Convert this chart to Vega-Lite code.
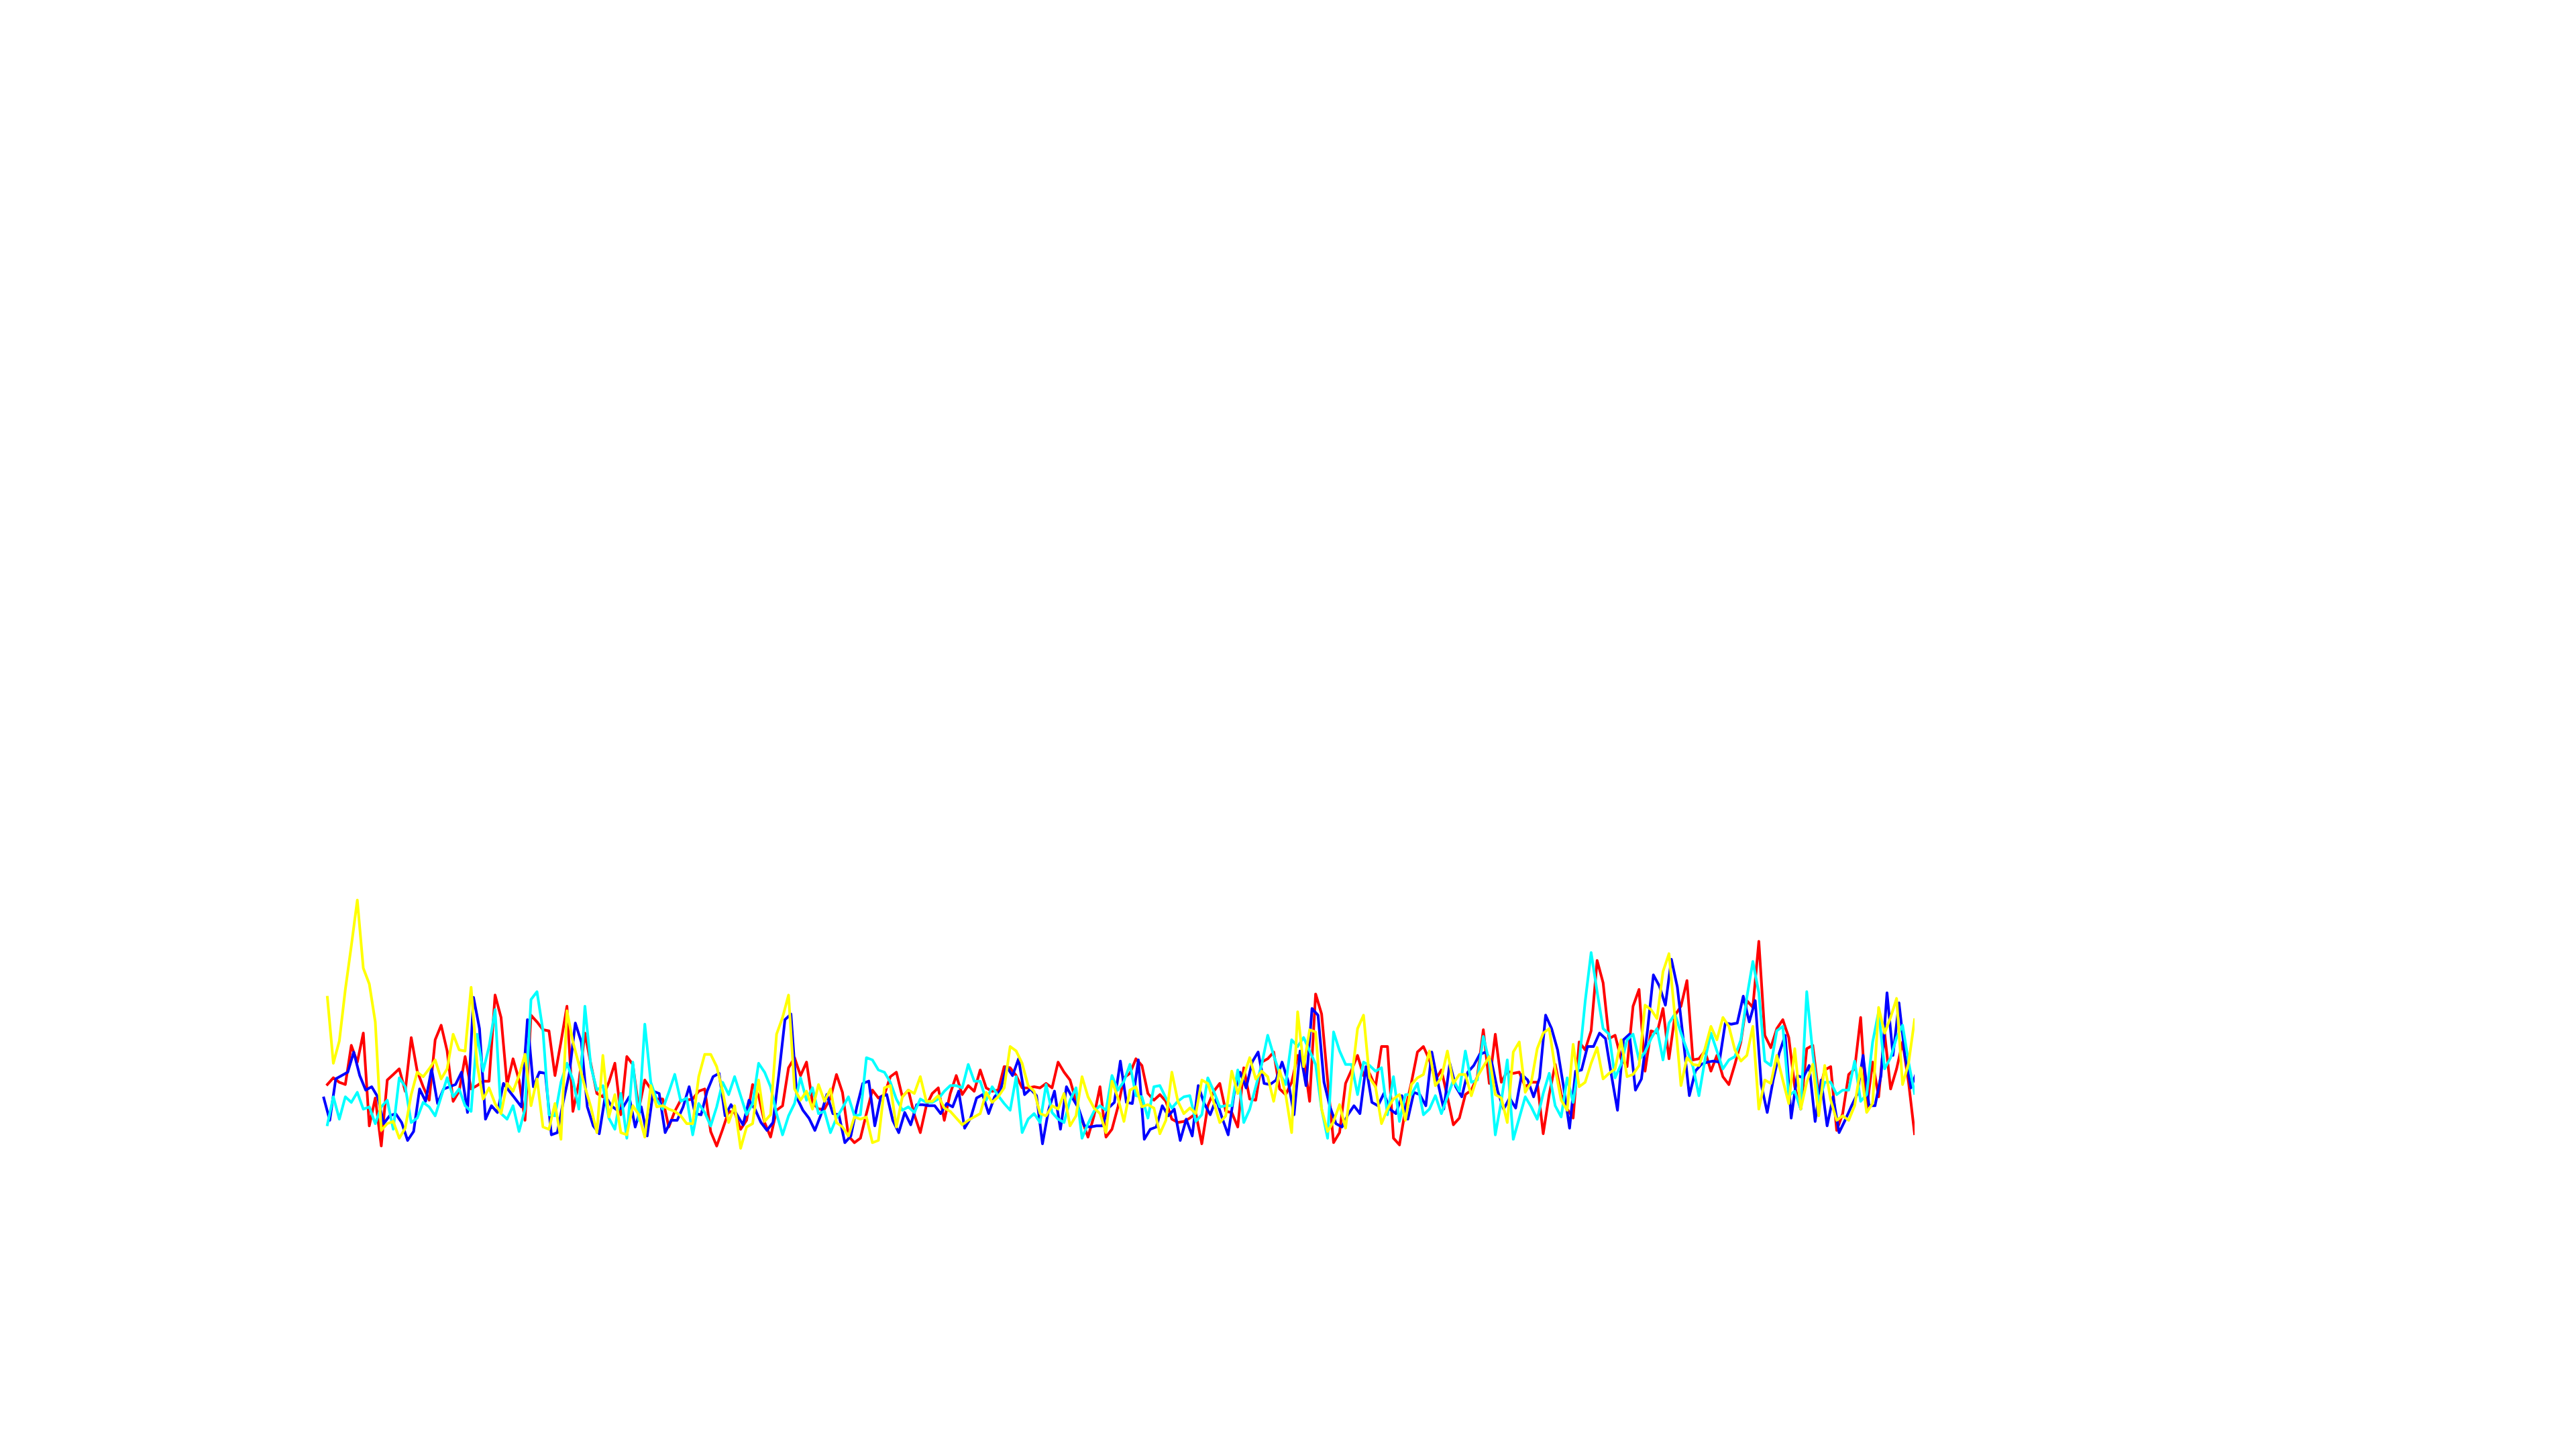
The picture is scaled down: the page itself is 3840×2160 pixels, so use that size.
{
"$schema": "https://vega.github.io/schema/vega-lite/v6.json",
"autosize": {"type": "none"},
"padding": {"left": 488, "top": 1320, "right": 0, "bottom": 0},
"width": 2366,
"height": 420,
"background": "white",
"config": {"view": {"stroke": null}},
"data": {"values": [
{"s":"r","x":0,"v":37},{"s":"r","x":1,"v":40},{"s":"r","x":2,"v":38},{"s":"r","x":3,"v":37},{"s":"r","x":4,"v":54.5},{"s":"r","x":5,"v":47},{"s":"r","x":6,"v":60},{"s":"r","x":7,"v":18.5},{"s":"r","x":8,"v":31},{"s":"r","x":9,"v":9.5},
{"s":"r","x":10,"v":39},{"s":"r","x":11,"v":41.5},{"s":"r","x":12,"v":44},{"s":"r","x":13,"v":34},{"s":"r","x":14,"v":58},{"s":"r","x":15,"v":43},{"s":"r","x":16,"v":36},{"s":"r","x":17,"v":30},{"s":"r","x":18,"v":57},{"s":"r","x":19,"v":63.5},
{"s":"r","x":20,"v":52},{"s":"r","x":21,"v":29.5},{"s":"r","x":22,"v":34},{"s":"r","x":23,"v":49.5},{"s":"r","x":24,"v":35},{"s":"r","x":25,"v":36.5},{"s":"r","x":26,"v":38.5},{"s":"r","x":27,"v":38.5},{"s":"r","x":28,"v":77},{"s":"r","x":29,"v":67},
{"s":"r","x":30,"v":37},{"s":"r","x":31,"v":48.5},{"s":"r","x":32,"v":39},{"s":"r","x":33,"v":21},{"s":"r","x":34,"v":68},{"s":"r","x":35,"v":65},{"s":"r","x":36,"v":61.5},{"s":"r","x":37,"v":61},{"s":"r","x":38,"v":41},{"s":"r","x":39,"v":56},
{"s":"r","x":40,"v":72},{"s":"r","x":41,"v":25},{"s":"r","x":42,"v":38},{"s":"r","x":43,"v":60},{"s":"r","x":44,"v":46},{"s":"r","x":45,"v":33},{"s":"r","x":46,"v":31.5},{"s":"r","x":47,"v":38},{"s":"r","x":48,"v":46.5},{"s":"r","x":49,"v":23.5},
{"s":"r","x":50,"v":49.5},{"s":"r","x":51,"v":46},{"s":"r","x":52,"v":26},{"s":"r","x":53,"v":39},{"s":"r","x":54,"v":35},{"s":"r","x":55,"v":30.5},{"s":"r","x":56,"v":30.5},{"s":"r","x":57,"v":18},{"s":"r","x":58,"v":25},{"s":"r","x":59,"v":30},
{"s":"r","x":60,"v":30},{"s":"r","x":61,"v":30.5},{"s":"r","x":62,"v":34},{"s":"r","x":63,"v":35},{"s":"r","x":64,"v":16},{"s":"r","x":65,"v":9.5},{"s":"r","x":66,"v":17},{"s":"r","x":67,"v":25},{"s":"r","x":68,"v":24.5},{"s":"r","x":69,"v":17},
{"s":"r","x":70,"v":21},{"s":"r","x":71,"v":37},{"s":"r","x":72,"v":32},{"s":"r","x":73,"v":20},{"s":"r","x":74,"v":13.5},{"s":"r","x":75,"v":25.5},{"s":"r","x":76,"v":27.5},{"s":"r","x":77,"v":44.5},{"s":"r","x":78,"v":49},{"s":"r","x":79,"v":41},
{"s":"r","x":80,"v":47},{"s":"r","x":81,"v":29},{"s":"r","x":82,"v":26},{"s":"r","x":83,"v":26},{"s":"r","x":84,"v":31},{"s":"r","x":85,"v":41.5},{"s":"r","x":86,"v":33.5},{"s":"r","x":87,"v":14},{"s":"r","x":88,"v":11},{"s":"r","x":89,"v":13},
{"s":"r","x":90,"v":24},{"s":"r","x":91,"v":34.5},{"s":"r","x":92,"v":31},{"s":"r","x":93,"v":32.5},{"s":"r","x":94,"v":40.5},{"s":"r","x":95,"v":42.5},{"s":"r","x":96,"v":31.5},{"s":"r","x":97,"v":34.5},{"s":"r","x":98,"v":23.5},{"s":"r","x":99,"v":15.5},
{"s":"r","x":100,"v":27.5},{"s":"r","x":101,"v":33},{"s":"r","x":102,"v":35.5},{"s":"r","x":103,"v":21},{"s":"r","x":104,"v":33},{"s":"r","x":105,"v":41},{"s":"r","x":106,"v":32.5},{"s":"r","x":107,"v":36.5},{"s":"r","x":108,"v":34},{"s":"r","x":109,"v":43.5},
{"s":"r","x":110,"v":35.5},{"s":"r","x":111,"v":34},{"s":"r","x":112,"v":34.5},{"s":"r","x":113,"v":45},{"s":"r","x":114,"v":44.5},{"s":"r","x":115,"v":41},{"s":"r","x":116,"v":35.5},{"s":"r","x":117,"v":35.5},{"s":"r","x":118,"v":36},{"s":"r","x":119,"v":35.5},
{"s":"r","x":120,"v":37.5},{"s":"r","x":121,"v":35.5},{"s":"r","x":122,"v":47},{"s":"r","x":123,"v":42.5},{"s":"r","x":124,"v":39},{"s":"r","x":125,"v":29.5},{"s":"r","x":126,"v":21},{"s":"r","x":127,"v":13.5},{"s":"r","x":128,"v":23},{"s":"r","x":129,"v":36},
{"s":"r","x":130,"v":13.5},{"s":"r","x":131,"v":17},{"s":"r","x":132,"v":27},{"s":"r","x":133,"v":40},{"s":"r","x":134,"v":42},{"s":"r","x":135,"v":48.5},{"s":"r","x":136,"v":45.5},{"s":"r","x":137,"v":33},{"s":"r","x":138,"v":30},{"s":"r","x":139,"v":32.5},
{"s":"r","x":140,"v":29.5},{"s":"r","x":141,"v":21.5},{"s":"r","x":142,"v":20},{"s":"r","x":143,"v":20.5},{"s":"r","x":144,"v":22},{"s":"r","x":145,"v":24},{"s":"r","x":146,"v":10.5},{"s":"r","x":147,"v":27.5},{"s":"r","x":148,"v":34},{"s":"r","x":149,"v":37.5},
{"s":"r","x":150,"v":25},{"s":"r","x":151,"v":24.5},{"s":"r","x":152,"v":18},{"s":"r","x":153,"v":44.5},{"s":"r","x":154,"v":30.5},{"s":"r","x":155,"v":30},{"s":"r","x":156,"v":47},{"s":"r","x":157,"v":48.5},{"s":"r","x":158,"v":51.5},{"s":"r","x":159,"v":35},
{"s":"r","x":160,"v":32.5},{"s":"r","x":161,"v":38},{"s":"r","x":162,"v":50},{"s":"r","x":163,"v":49},{"s":"r","x":164,"v":29.5},{"s":"r","x":165,"v":77.5},{"s":"r","x":166,"v":68.5},{"s":"r","x":167,"v":39},{"s":"r","x":168,"v":11},{"s":"r","x":169,"v":15.5},
{"s":"r","x":170,"v":37.5},{"s":"r","x":171,"v":43.5},{"s":"r","x":172,"v":50},{"s":"r","x":173,"v":41},{"s":"r","x":174,"v":42},{"s":"r","x":175,"v":36},{"s":"r","x":176,"v":54},{"s":"r","x":177,"v":54},{"s":"r","x":178,"v":13},{"s":"r","x":179,"v":10},
{"s":"r","x":180,"v":26},{"s":"r","x":181,"v":38},{"s":"r","x":182,"v":51.5},{"s":"r","x":183,"v":54},{"s":"r","x":184,"v":48},{"s":"r","x":185,"v":39},{"s":"r","x":186,"v":43.5},{"s":"r","x":187,"v":31.5},{"s":"r","x":188,"v":19},{"s":"r","x":189,"v":22},
{"s":"r","x":190,"v":32.5},{"s":"r","x":191,"v":34.5},{"s":"r","x":192,"v":40.5},{"s":"r","x":193,"v":61.5},{"s":"r","x":194,"v":37.5},{"s":"r","x":195,"v":59.5},{"s":"r","x":196,"v":38},{"s":"r","x":197,"v":43},{"s":"r","x":198,"v":42},{"s":"r","x":199,"v":42.5},
{"s":"r","x":200,"v":36},{"s":"r","x":201,"v":38},{"s":"r","x":202,"v":38},{"s":"r","x":203,"v":15},{"s":"r","x":204,"v":32.5},{"s":"r","x":205,"v":46},{"s":"r","x":206,"v":32.5},{"s":"r","x":207,"v":26},{"s":"r","x":208,"v":22},{"s":"r","x":209,"v":56},
{"s":"r","x":210,"v":52.5},{"s":"r","x":211,"v":61},{"s":"r","x":212,"v":92.5},{"s":"r","x":213,"v":82.5},{"s":"r","x":214,"v":57.5},{"s":"r","x":215,"v":59},{"s":"r","x":216,"v":48.5},{"s":"r","x":217,"v":45},{"s":"r","x":218,"v":72},{"s":"r","x":219,"v":79.5},
{"s":"r","x":220,"v":43},{"s":"r","x":221,"v":61},{"s":"r","x":222,"v":60},{"s":"r","x":223,"v":71},{"s":"r","x":224,"v":48.5},{"s":"r","x":225,"v":68},{"s":"r","x":226,"v":72},{"s":"r","x":227,"v":83.5},{"s":"r","x":228,"v":48},{"s":"r","x":229,"v":48.5},
{"s":"r","x":230,"v":52},{"s":"r","x":231,"v":43},{"s":"r","x":232,"v":50},{"s":"r","x":233,"v":40.5},{"s":"r","x":234,"v":37},{"s":"r","x":235,"v":46},{"s":"r","x":236,"v":56},{"s":"r","x":237,"v":74.5},{"s":"r","x":238,"v":71.5},{"s":"r","x":239,"v":101},
{"s":"r","x":240,"v":59},{"s":"r","x":241,"v":53.5},{"s":"r","x":242,"v":62},{"s":"r","x":243,"v":66},{"s":"r","x":244,"v":58},{"s":"r","x":245,"v":36},{"s":"r","x":246,"v":26},{"s":"r","x":247,"v":53},{"s":"r","x":248,"v":54.5},{"s":"r","x":249,"v":32.5},
{"s":"r","x":250,"v":43.5},{"s":"r","x":251,"v":45},{"s":"r","x":252,"v":16.5},{"s":"r","x":253,"v":24},{"s":"r","x":254,"v":41.5},{"s":"r","x":255,"v":44},{"s":"r","x":256,"v":67},{"s":"r","x":257,"v":26},{"s":"r","x":258,"v":47},{"s":"r","x":259,"v":31.5},
{"s":"r","x":260,"v":60},{"s":"r","x":261,"v":35},{"s":"r","x":262,"v":44},{"s":"r","x":263,"v":56},{"s":"r","x":264,"v":38},{"s":"r","x":265,"v":15},

{"s":"b","x":-0.6,"v":31},{"s":"b","x":0.4,"v":21},{"s":"b","x":1.4,"v":39.5},{"s":"b","x":2.4,"v":41},{"s":"b","x":3.4,"v":42.5},{"s":"b","x":4.4,"v":51.5},{"s":"b","x":5.4,"v":41},{"s":"b","x":6.4,"v":34.5},{"s":"b","x":7.4,"v":36},{"s":"b","x":8.4,"v":31.5},{"s":"b","x":9.4,"v":19.5},
{"s":"b","x":10.4,"v":23},{"s":"b","x":11.4,"v":24},{"s":"b","x":12.4,"v":20},{"s":"b","x":13.4,"v":12},{"s":"b","x":14.4,"v":16},{"s":"b","x":15.4,"v":35},{"s":"b","x":16.4,"v":29.5},{"s":"b","x":17.4,"v":44},{"s":"b","x":18.4,"v":28.5},{"s":"b","x":19.4,"v":35},
{"s":"b","x":20.4,"v":36},{"s":"b","x":21.4,"v":37},{"s":"b","x":22.4,"v":42.5},{"s":"b","x":23.4,"v":24.5},{"s":"b","x":24.4,"v":76},{"s":"b","x":25.4,"v":62},{"s":"b","x":26.4,"v":21.5},{"s":"b","x":27.4,"v":27.5},{"s":"b","x":28.4,"v":24.5},{"s":"b","x":29.4,"v":37.5},
{"s":"b","x":30.4,"v":34},{"s":"b","x":31.4,"v":30.5},{"s":"b","x":32.4,"v":27},{"s":"b","x":33.4,"v":66},{"s":"b","x":34.4,"v":36},{"s":"b","x":35.4,"v":42.5},{"s":"b","x":36.4,"v":42},{"s":"b","x":37.4,"v":14.5},{"s":"b","x":38.4,"v":15.5},{"s":"b","x":39.4,"v":29.5},
{"s":"b","x":40.4,"v":42},{"s":"b","x":41.4,"v":64.5},{"s":"b","x":42.4,"v":56},{"s":"b","x":43.4,"v":27},{"s":"b","x":44.4,"v":18.5},{"s":"b","x":45.4,"v":15},{"s":"b","x":46.4,"v":32},{"s":"b","x":47.4,"v":27.5},{"s":"b","x":48.4,"v":25.5},{"s":"b","x":49.4,"v":27},
{"s":"b","x":50.4,"v":31.5},{"s":"b","x":51.4,"v":18},{"s":"b","x":52.4,"v":27},{"s":"b","x":53.4,"v":14},{"s":"b","x":54.4,"v":34},{"s":"b","x":55.4,"v":33},{"s":"b","x":56.4,"v":15.5},{"s":"b","x":57.4,"v":21},{"s":"b","x":58.4,"v":21},{"s":"b","x":59.4,"v":27},
{"s":"b","x":60.4,"v":36},{"s":"b","x":61.4,"v":24},{"s":"b","x":62.4,"v":23.5},{"s":"b","x":63.4,"v":34},{"s":"b","x":64.4,"v":40.5},{"s":"b","x":65.4,"v":42},{"s":"b","x":66.4,"v":23},{"s":"b","x":67.4,"v":28},{"s":"b","x":68.4,"v":23.5},{"s":"b","x":69.4,"v":19},
{"s":"b","x":70.4,"v":30},{"s":"b","x":71.4,"v":26},{"s":"b","x":72.4,"v":20},{"s":"b","x":73.4,"v":16.5},{"s":"b","x":74.4,"v":20},{"s":"b","x":75.4,"v":42},{"s":"b","x":76.4,"v":66},{"s":"b","x":77.4,"v":68.5},{"s":"b","x":78.4,"v":31},{"s":"b","x":79.4,"v":25.5},
{"s":"b","x":80.4,"v":22},{"s":"b","x":81.4,"v":16.5},{"s":"b","x":82.4,"v":23.5},{"s":"b","x":83.4,"v":32.5},{"s":"b","x":84.4,"v":24},{"s":"b","x":85.4,"v":23.5},{"s":"b","x":86.4,"v":11},{"s":"b","x":87.4,"v":14},{"s":"b","x":88.4,"v":27},{"s":"b","x":89.4,"v":37.5},
{"s":"b","x":90.4,"v":38.5},{"s":"b","x":91.4,"v":18.5},{"s":"b","x":92.4,"v":31.5},{"s":"b","x":93.4,"v":32.5},{"s":"b","x":94.4,"v":21},{"s":"b","x":95.4,"v":15.5},{"s":"b","x":96.4,"v":24.5},{"s":"b","x":97.4,"v":19},{"s":"b","x":98.4,"v":28},{"s":"b","x":99.4,"v":28},
{"s":"b","x":100.4,"v":27.5},{"s":"b","x":101.4,"v":27.5},{"s":"b","x":102.4,"v":24},{"s":"b","x":103.4,"v":28.5},{"s":"b","x":104.4,"v":27},{"s":"b","x":105.4,"v":34},{"s":"b","x":106.4,"v":17.5},{"s":"b","x":107.4,"v":22},{"s":"b","x":108.4,"v":31},{"s":"b","x":109.4,"v":32.5},
{"s":"b","x":110.4,"v":24},{"s":"b","x":111.4,"v":31.5},{"s":"b","x":112.4,"v":34.5},{"s":"b","x":113.4,"v":45},{"s":"b","x":114.4,"v":41},{"s":"b","x":115.4,"v":48.5},{"s":"b","x":116.4,"v":32.5},{"s":"b","x":117.4,"v":35},{"s":"b","x":118.4,"v":32},{"s":"b","x":119.4,"v":10.5},
{"s":"b","x":120.4,"v":25.5},{"s":"b","x":121.4,"v":34},{"s":"b","x":122.4,"v":17},{"s":"b","x":123.4,"v":36},{"s":"b","x":124.4,"v":31},{"s":"b","x":125.4,"v":26.5},{"s":"b","x":126.4,"v":18.5},{"s":"b","x":127.4,"v":18},{"s":"b","x":128.4,"v":18.5},{"s":"b","x":129.4,"v":18.5},
{"s":"b","x":130.4,"v":26.5},{"s":"b","x":131.4,"v":29},{"s":"b","x":132.4,"v":47.5},{"s":"b","x":133.4,"v":29},{"s":"b","x":134.4,"v":28.5},{"s":"b","x":135.4,"v":48},{"s":"b","x":136.4,"v":12.5},{"s":"b","x":137.4,"v":17},{"s":"b","x":138.4,"v":18},{"s":"b","x":139.4,"v":27.5},
{"s":"b","x":140.4,"v":23},{"s":"b","x":141.4,"v":26},{"s":"b","x":142.4,"v":12},{"s":"b","x":143.4,"v":21.5},{"s":"b","x":144.4,"v":14},{"s":"b","x":145.4,"v":36.5},{"s":"b","x":146.4,"v":28.5},{"s":"b","x":147.4,"v":23.5},{"s":"b","x":148.4,"v":30.5},{"s":"b","x":149.4,"v":22},
{"s":"b","x":150.4,"v":14.5},{"s":"b","x":151.4,"v":33},{"s":"b","x":152.4,"v":42.5},{"s":"b","x":153.4,"v":35.5},{"s":"b","x":154.4,"v":47},{"s":"b","x":155.4,"v":51.5},{"s":"b","x":156.4,"v":37.5},{"s":"b","x":157.4,"v":37},{"s":"b","x":158.4,"v":39},{"s":"b","x":159.4,"v":47},
{"s":"b","x":160.4,"v":38.5},{"s":"b","x":161.4,"v":23.5},{"s":"b","x":162.4,"v":52},{"s":"b","x":163.4,"v":36.5},{"s":"b","x":164.4,"v":71},{"s":"b","x":165.4,"v":68},{"s":"b","x":166.4,"v":38},{"s":"b","x":167.4,"v":27},{"s":"b","x":168.4,"v":19.5},{"s":"b","x":169.4,"v":18},
{"s":"b","x":170.4,"v":23.5},{"s":"b","x":171.4,"v":27.5},{"s":"b","x":172.4,"v":24},{"s":"b","x":173.4,"v":45},{"s":"b","x":174.4,"v":29},{"s":"b","x":175.4,"v":27.5},{"s":"b","x":176.4,"v":33},{"s":"b","x":177.4,"v":26},{"s":"b","x":178.4,"v":24},{"s":"b","x":179.4,"v":32},
{"s":"b","x":180.4,"v":21.5},{"s":"b","x":181.4,"v":33.5},{"s":"b","x":182.4,"v":32.5},{"s":"b","x":183.4,"v":27.5},{"s":"b","x":184.4,"v":51.5},{"s":"b","x":185.4,"v":38},{"s":"b","x":186.4,"v":26},{"s":"b","x":187.4,"v":46.5},{"s":"b","x":188.4,"v":36},{"s":"b","x":189.4,"v":31.5},
{"s":"b","x":190.4,"v":42.5},{"s":"b","x":191.4,"v":45.5},{"s":"b","x":192.4,"v":50.5},{"s":"b","x":193.4,"v":51.5},{"s":"b","x":194.4,"v":47},{"s":"b","x":195.4,"v":34},{"s":"b","x":196.4,"v":26},{"s":"b","x":197.4,"v":31},{"s":"b","x":198.4,"v":26.5},{"s":"b","x":199.4,"v":41.5},
{"s":"b","x":200.4,"v":39},{"s":"b","x":201.4,"v":31.5},{"s":"b","x":202.4,"v":40},{"s":"b","x":203.4,"v":68},{"s":"b","x":204.4,"v":62},{"s":"b","x":205.4,"v":52.5},{"s":"b","x":206.4,"v":36},{"s":"b","x":207.4,"v":17.5},{"s":"b","x":208.4,"v":43},{"s":"b","x":209.4,"v":43.5},
{"s":"b","x":210.4,"v":54},{"s":"b","x":211.4,"v":54},{"s":"b","x":212.4,"v":60},{"s":"b","x":213.4,"v":57.5},{"s":"b","x":214.4,"v":41},{"s":"b","x":215.4,"v":25.5},{"s":"b","x":216.4,"v":57},{"s":"b","x":217.4,"v":59.5},{"s":"b","x":218.4,"v":34.5},{"s":"b","x":219.4,"v":39.5},
{"s":"b","x":220.4,"v":61},{"s":"b","x":221.4,"v":86},{"s":"b","x":222.4,"v":81},{"s":"b","x":223.4,"v":72.5},{"s":"b","x":224.4,"v":93},{"s":"b","x":225.4,"v":80.5},{"s":"b","x":226.4,"v":57},{"s":"b","x":227.4,"v":32},{"s":"b","x":228.4,"v":43},{"s":"b","x":229.4,"v":46},
{"s":"b","x":230.4,"v":47},{"s":"b","x":231.4,"v":47.5},{"s":"b","x":232.4,"v":47},{"s":"b","x":233.4,"v":64.5},{"s":"b","x":234.4,"v":64},{"s":"b","x":235.4,"v":64.5},{"s":"b","x":236.4,"v":76.5},{"s":"b","x":237.4,"v":65},{"s":"b","x":238.4,"v":74.5},{"s":"b","x":239.4,"v":37},
{"s":"b","x":240.4,"v":24.5},{"s":"b","x":241.4,"v":39},{"s":"b","x":242.4,"v":51},{"s":"b","x":243.4,"v":59},{"s":"b","x":244.4,"v":22},{"s":"b","x":245.4,"v":41},{"s":"b","x":246.4,"v":40},{"s":"b","x":247.4,"v":45.5},{"s":"b","x":248.4,"v":20.5},{"s":"b","x":249.4,"v":39},
{"s":"b","x":250.4,"v":18.5},{"s":"b","x":251.4,"v":31.5},{"s":"b","x":252.4,"v":15.5},{"s":"b","x":253.4,"v":21},{"s":"b","x":254.4,"v":27},{"s":"b","x":255.4,"v":32.5},{"s":"b","x":256.4,"v":50},{"s":"b","x":257.4,"v":27.5},{"s":"b","x":258.4,"v":27.5},{"s":"b","x":259.4,"v":41},
{"s":"b","x":260.4,"v":78},{"s":"b","x":261.4,"v":50},{"s":"b","x":262.4,"v":73.5},{"s":"b","x":263.4,"v":50},{"s":"b","x":264.4,"v":35.5},{"s":"b","x":265.4,"v":43},

{"s":"c","x":0,"v":19},{"s":"c","x":1,"v":31.5},{"s":"c","x":2,"v":21.5},{"s":"c","x":3,"v":31.5},{"s":"c","x":4,"v":29},{"s":"c","x":5,"v":33.5},{"s":"c","x":6,"v":26},{"s":"c","x":7,"v":27},{"s":"c","x":8,"v":19.5},{"s":"c","x":9,"v":27},
{"s":"c","x":10,"v":30},{"s":"c","x":11,"v":17},{"s":"c","x":12,"v":40},{"s":"c","x":13,"v":36},{"s":"c","x":14,"v":20},{"s":"c","x":15,"v":22},{"s":"c","x":16,"v":29},{"s":"c","x":17,"v":27},{"s":"c","x":18,"v":23},{"s":"c","x":19,"v":31.5},
{"s":"c","x":20,"v":40},{"s":"c","x":21,"v":31.5},{"s":"c","x":22,"v":35},{"s":"c","x":23,"v":27.5},{"s":"c","x":24,"v":25},{"s":"c","x":25,"v":59.5},{"s":"c","x":26,"v":43},{"s":"c","x":27,"v":54},{"s":"c","x":28,"v":70.5},{"s":"c","x":29,"v":24},
{"s":"c","x":30,"v":21.5},{"s":"c","x":31,"v":27.5},{"s":"c","x":32,"v":16},{"s":"c","x":33,"v":26},{"s":"c","x":34,"v":75},{"s":"c","x":35,"v":78.5},{"s":"c","x":36,"v":61},{"s":"c","x":37,"v":23.5},{"s":"c","x":38,"v":23},{"s":"c","x":39,"v":38},
{"s":"c","x":40,"v":46.5},{"s":"c","x":41,"v":39},{"s":"c","x":42,"v":26},{"s":"c","x":43,"v":72},{"s":"c","x":44,"v":45},{"s":"c","x":45,"v":34.5},{"s":"c","x":46,"v":36.5},{"s":"c","x":47,"v":22},{"s":"c","x":48,"v":17},{"s":"c","x":49,"v":33},
{"s":"c","x":50,"v":13},{"s":"c","x":51,"v":47},{"s":"c","x":52,"v":21},{"s":"c","x":53,"v":64},{"s":"c","x":54,"v":38},{"s":"c","x":55,"v":30},{"s":"c","x":56,"v":26},{"s":"c","x":57,"v":33.5},{"s":"c","x":58,"v":41.5},{"s":"c","x":59,"v":29.5},
{"s":"c","x":60,"v":31},{"s":"c","x":61,"v":14.5},{"s":"c","x":62,"v":28.5},{"s":"c","x":63,"v":24.5},{"s":"c","x":64,"v":18.5},{"s":"c","x":65,"v":27},{"s":"c","x":66,"v":38},{"s":"c","x":67,"v":32.5},{"s":"c","x":68,"v":40.5},{"s":"c","x":69,"v":32},
{"s":"c","x":70,"v":23.5},{"s":"c","x":71,"v":28.5},{"s":"c","x":72,"v":46.5},{"s":"c","x":73,"v":42.5},{"s":"c","x":74,"v":36},{"s":"c","x":75,"v":24},{"s":"c","x":76,"v":14.5},{"s":"c","x":77,"v":23},{"s":"c","x":78,"v":28.5},{"s":"c","x":79,"v":40},
{"s":"c","x":80,"v":30},{"s":"c","x":81,"v":35.5},{"s":"c","x":82,"v":24},{"s":"c","x":83,"v":25},{"s":"c","x":84,"v":15.5},{"s":"c","x":85,"v":22},{"s":"c","x":86,"v":26.5},{"s":"c","x":87,"v":31.5},{"s":"c","x":88,"v":23},{"s":"c","x":89,"v":23.5},
{"s":"c","x":90,"v":49},{"s":"c","x":91,"v":48},{"s":"c","x":92,"v":43.5},{"s":"c","x":93,"v":42.5},{"s":"c","x":94,"v":38},{"s":"c","x":95,"v":30.5},{"s":"c","x":96,"v":25.5},{"s":"c","x":97,"v":27},{"s":"c","x":98,"v":24.5},{"s":"c","x":99,"v":30.5},
{"s":"c","x":100,"v":29},{"s":"c","x":101,"v":29},{"s":"c","x":102,"v":30.5},{"s":"c","x":103,"v":34},{"s":"c","x":104,"v":36.5},{"s":"c","x":105,"v":36.5},{"s":"c","x":106,"v":35.5},{"s":"c","x":107,"v":46},{"s":"c","x":108,"v":38.5},{"s":"c","x":109,"v":38.5},
{"s":"c","x":110,"v":30},{"s":"c","x":111,"v":36},{"s":"c","x":112,"v":32},{"s":"c","x":113,"v":28.5},{"s":"c","x":114,"v":25.5},{"s":"c","x":115,"v":40.5},{"s":"c","x":116,"v":15.5},{"s":"c","x":117,"v":21.5},{"s":"c","x":118,"v":24},{"s":"c","x":119,"v":20},
{"s":"c","x":120,"v":37},{"s":"c","x":121,"v":24.5},{"s":"c","x":122,"v":21.5},{"s":"c","x":123,"v":20},{"s":"c","x":124,"v":30},{"s":"c","x":125,"v":35.5},{"s":"c","x":126,"v":13},{"s":"c","x":127,"v":19.5},{"s":"c","x":128,"v":25},{"s":"c","x":129,"v":27.5},
{"s":"c","x":130,"v":25.5},{"s":"c","x":131,"v":41},{"s":"c","x":132,"v":34.5},{"s":"c","x":133,"v":38.5},{"s":"c","x":134,"v":46},{"s":"c","x":135,"v":32},{"s":"c","x":136,"v":31.5},{"s":"c","x":137,"v":22},{"s":"c","x":138,"v":36},{"s":"c","x":139,"v":36.5},
{"s":"c","x":140,"v":31},{"s":"c","x":141,"v":26.5},{"s":"c","x":142,"v":29.5},{"s":"c","x":143,"v":31.5},{"s":"c","x":144,"v":32},{"s":"c","x":145,"v":20.5},{"s":"c","x":146,"v":23.5},{"s":"c","x":147,"v":40},{"s":"c","x":148,"v":34},{"s":"c","x":149,"v":27},
{"s":"c","x":150,"v":27.5},{"s":"c","x":151,"v":27.5},{"s":"c","x":152,"v":43.5},{"s":"c","x":153,"v":20},{"s":"c","x":154,"v":26},{"s":"c","x":155,"v":36},{"s":"c","x":156,"v":46},{"s":"c","x":157,"v":59},{"s":"c","x":158,"v":50},{"s":"c","x":159,"v":42},
{"s":"c","x":160,"v":37},{"s":"c","x":161,"v":57},{"s":"c","x":162,"v":54},{"s":"c","x":163,"v":58},{"s":"c","x":164,"v":52},{"s":"c","x":165,"v":46},{"s":"c","x":166,"v":26},{"s":"c","x":167,"v":13},{"s":"c","x":168,"v":60.5},{"s":"c","x":169,"v":52},
{"s":"c","x":170,"v":46},{"s":"c","x":171,"v":46},{"s":"c","x":172,"v":32.5},{"s":"c","x":173,"v":47},{"s":"c","x":174,"v":45.5},{"s":"c","x":175,"v":43},{"s":"c","x":176,"v":44.5},{"s":"c","x":177,"v":23.5},{"s":"c","x":178,"v":40.5},{"s":"c","x":179,"v":20.5},
{"s":"c","x":180,"v":32.5},{"s":"c","x":181,"v":32.5},{"s":"c","x":182,"v":37.5},{"s":"c","x":183,"v":23.5},{"s":"c","x":184,"v":26},{"s":"c","x":185,"v":32},{"s":"c","x":186,"v":24},{"s":"c","x":187,"v":31.5},{"s":"c","x":188,"v":39},{"s":"c","x":189,"v":34},
{"s":"c","x":190,"v":52},{"s":"c","x":191,"v":38},{"s":"c","x":192,"v":39},{"s":"c","x":193,"v":58.5},{"s":"c","x":194,"v":47},{"s":"c","x":195,"v":14.5},{"s":"c","x":196,"v":29.5},{"s":"c","x":197,"v":48},{"s":"c","x":198,"v":12.5},{"s":"c","x":199,"v":22},
{"s":"c","x":200,"v":31.5},{"s":"c","x":201,"v":27},{"s":"c","x":202,"v":21.5},{"s":"c","x":203,"v":33},{"s":"c","x":204,"v":42},{"s":"c","x":205,"v":27.5},{"s":"c","x":206,"v":22.5},{"s":"c","x":207,"v":40},{"s":"c","x":208,"v":29},{"s":"c","x":209,"v":47},
{"s":"c","x":210,"v":74},{"s":"c","x":211,"v":96},{"s":"c","x":212,"v":78.5},{"s":"c","x":213,"v":62},{"s":"c","x":214,"v":59.5},{"s":"c","x":215,"v":40},{"s":"c","x":216,"v":46},{"s":"c","x":217,"v":57},{"s":"c","x":218,"v":59.5},{"s":"c","x":219,"v":48},
{"s":"c","x":220,"v":51.5},{"s":"c","x":221,"v":57.5},{"s":"c","x":222,"v":62},{"s":"c","x":223,"v":48},{"s":"c","x":224,"v":64.5},{"s":"c","x":225,"v":68.5},{"s":"c","x":226,"v":60},{"s":"c","x":227,"v":52.5},{"s":"c","x":228,"v":45},{"s":"c","x":229,"v":32},
{"s":"c","x":230,"v":48},{"s":"c","x":231,"v":60},{"s":"c","x":232,"v":52},{"s":"c","x":233,"v":44},{"s":"c","x":234,"v":48},{"s":"c","x":235,"v":49.5},{"s":"c","x":236,"v":57},{"s":"c","x":237,"v":76},{"s":"c","x":238,"v":92},{"s":"c","x":239,"v":78},
{"s":"c","x":240,"v":47.5},{"s":"c","x":241,"v":45.5},{"s":"c","x":242,"v":61},{"s":"c","x":243,"v":63},{"s":"c","x":244,"v":32},{"s":"c","x":245,"v":34},{"s":"c","x":246,"v":26},{"s":"c","x":247,"v":78.5},{"s":"c","x":248,"v":51},{"s":"c","x":249,"v":29},
{"s":"c","x":250,"v":38},{"s":"c","x":251,"v":38},{"s":"c","x":252,"v":32.5},{"s":"c","x":253,"v":34.5},{"s":"c","x":254,"v":34.5},{"s":"c","x":255,"v":47.5},{"s":"c","x":256,"v":29.5},{"s":"c","x":257,"v":32.5},{"s":"c","x":258,"v":56},{"s":"c","x":259,"v":69.5},
{"s":"c","x":260,"v":44},{"s":"c","x":261,"v":49},{"s":"c","x":262,"v":58},{"s":"c","x":263,"v":63.5},{"s":"c","x":264,"v":47},{"s":"c","x":265,"v":33},

{"s":"y","x":0,"v":76},{"s":"y","x":1,"v":46.5},{"s":"y","x":2,"v":56.5},{"s":"y","x":3,"v":79.5},{"s":"y","x":4,"v":99},{"s":"y","x":5,"v":119.5},{"s":"y","x":6,"v":89},{"s":"y","x":7,"v":82},{"s":"y","x":8,"v":65},{"s":"y","x":9,"v":16.5},
{"s":"y","x":10,"v":19.5},{"s":"y","x":11,"v":20.5},{"s":"y","x":12,"v":13},{"s":"y","x":13,"v":17.5},{"s":"y","x":14,"v":32.5},{"s":"y","x":15,"v":42.5},{"s":"y","x":16,"v":40.5},{"s":"y","x":17,"v":44},{"s":"y","x":18,"v":48},{"s":"y","x":19,"v":39.5},
{"s":"y","x":20,"v":44},{"s":"y","x":21,"v":59.5},{"s":"y","x":22,"v":52.5},{"s":"y","x":23,"v":52},{"s":"y","x":24,"v":80.5},{"s":"y","x":25,"v":46},{"s":"y","x":26,"v":30.5},{"s":"y","x":27,"v":35.5},{"s":"y","x":28,"v":28.5},{"s":"y","x":29,"v":24},
{"s":"y","x":30,"v":37.5},{"s":"y","x":31,"v":34},{"s":"y","x":32,"v":41},{"s":"y","x":33,"v":50.5},{"s":"y","x":34,"v":27.5},{"s":"y","x":35,"v":39.5},{"s":"y","x":36,"v":18},{"s":"y","x":37,"v":17},{"s":"y","x":38,"v":28.5},{"s":"y","x":39,"v":12.5},
{"s":"y","x":40,"v":70},{"s":"y","x":41,"v":56},{"s":"y","x":42,"v":46},{"s":"y","x":43,"v":36},{"s":"y","x":44,"v":27},{"s":"y","x":45,"v":15.5},{"s":"y","x":46,"v":50},{"s":"y","x":47,"v":22.5},{"s":"y","x":48,"v":32.5},{"s":"y","x":49,"v":15.5},
{"s":"y","x":50,"v":14.5},{"s":"y","x":51,"v":27.5},{"s":"y","x":52,"v":23.5},{"s":"y","x":53,"v":13.5},{"s":"y","x":54,"v":36.5},{"s":"y","x":55,"v":27},{"s":"y","x":56,"v":27.5},{"s":"y","x":57,"v":26},{"s":"y","x":58,"v":25},{"s":"y","x":59,"v":23},
{"s":"y","x":60,"v":19.5},{"s":"y","x":61,"v":19.5},{"s":"y","x":62,"v":40.5},{"s":"y","x":63,"v":50.5},{"s":"y","x":64,"v":50.5},{"s":"y","x":65,"v":45},{"s":"y","x":66,"v":34},{"s":"y","x":67,"v":20},{"s":"y","x":68,"v":27.5},{"s":"y","x":69,"v":8.5},
{"s":"y","x":70,"v":18},{"s":"y","x":71,"v":19.5},{"s":"y","x":72,"v":39},{"s":"y","x":73,"v":20.5},{"s":"y","x":74,"v":23.5},{"s":"y","x":75,"v":59.5},{"s":"y","x":76,"v":67},{"s":"y","x":77,"v":77},{"s":"y","x":78,"v":35},{"s":"y","x":79,"v":30},
{"s":"y","x":80,"v":34},{"s":"y","x":81,"v":26},{"s":"y","x":82,"v":37},{"s":"y","x":83,"v":29.5},{"s":"y","x":84,"v":35},{"s":"y","x":85,"v":20},{"s":"y","x":86,"v":18},{"s":"y","x":87,"v":14},{"s":"y","x":88,"v":22.5},{"s":"y","x":89,"v":21.5},
{"s":"y","x":90,"v":22.5},{"s":"y","x":91,"v":11},{"s":"y","x":92,"v":12},{"s":"y","x":93,"v":35.5},{"s":"y","x":94,"v":36.5},{"s":"y","x":95,"v":18},{"s":"y","x":96,"v":31.5},{"s":"y","x":97,"v":34.5},{"s":"y","x":98,"v":33},{"s":"y","x":99,"v":40.5},
{"s":"y","x":100,"v":29.5},{"s":"y","x":101,"v":29.5},{"s":"y","x":102,"v":32},{"s":"y","x":103,"v":26.5},{"s":"y","x":104,"v":25},{"s":"y","x":105,"v":22},{"s":"y","x":106,"v":19},{"s":"y","x":107,"v":21},{"s":"y","x":108,"v":22.5},{"s":"y","x":109,"v":24},
{"s":"y","x":110,"v":33.5},{"s":"y","x":111,"v":29},{"s":"y","x":112,"v":31.5},{"s":"y","x":113,"v":35.5},{"s":"y","x":114,"v":54},{"s":"y","x":115,"v":52},{"s":"y","x":116,"v":46.5},{"s":"y","x":117,"v":36.5},{"s":"y","x":118,"v":34},{"s":"y","x":119,"v":24},
{"s":"y","x":120,"v":23},{"s":"y","x":121,"v":27.5},{"s":"y","x":122,"v":26},{"s":"y","x":123,"v":33},{"s":"y","x":124,"v":18.5},{"s":"y","x":125,"v":23},{"s":"y","x":126,"v":40.5},{"s":"y","x":127,"v":31.5},{"s":"y","x":128,"v":26.5},{"s":"y","x":129,"v":24},
{"s":"y","x":130,"v":15.5},{"s":"y","x":131,"v":38.5},{"s":"y","x":132,"v":31},{"s":"y","x":133,"v":20.5},{"s":"y","x":134,"v":34.5},{"s":"y","x":135,"v":36},{"s":"y","x":136,"v":27},{"s":"y","x":137,"v":28},{"s":"y","x":138,"v":26.5},{"s":"y","x":139,"v":15},
{"s":"y","x":140,"v":21},{"s":"y","x":141,"v":42.5},{"s":"y","x":142,"v":29.5},{"s":"y","x":143,"v":24},{"s":"y","x":144,"v":26.5},{"s":"y","x":145,"v":24},{"s":"y","x":146,"v":39},{"s":"y","x":147,"v":37.5},{"s":"y","x":148,"v":29},{"s":"y","x":149,"v":20},
{"s":"y","x":150,"v":23},{"s":"y","x":151,"v":43},{"s":"y","x":152,"v":33},{"s":"y","x":153,"v":41},{"s":"y","x":154,"v":49},{"s":"y","x":155,"v":39.5},{"s":"y","x":156,"v":43},{"s":"y","x":157,"v":40.5},{"s":"y","x":158,"v":29.5},{"s":"y","x":159,"v":43.5},
{"s":"y","x":160,"v":32.5},{"s":"y","x":161,"v":15.5},{"s":"y","x":162,"v":69.5},{"s":"y","x":163,"v":45},{"s":"y","x":164,"v":61.5},{"s":"y","x":165,"v":60.5},{"s":"y","x":166,"v":26},{"s":"y","x":167,"v":16},{"s":"y","x":168,"v":20.5},{"s":"y","x":169,"v":28},
{"s":"y","x":170,"v":17.5},{"s":"y","x":171,"v":39},{"s":"y","x":172,"v":62},{"s":"y","x":173,"v":68},{"s":"y","x":174,"v":40},{"s":"y","x":175,"v":36},{"s":"y","x":176,"v":19.5},{"s":"y","x":177,"v":26},{"s":"y","x":178,"v":30.5},{"s":"y","x":179,"v":32.5},
{"s":"y","x":180,"v":21},{"s":"y","x":181,"v":37},{"s":"y","x":182,"v":40},{"s":"y","x":183,"v":41.5},{"s":"y","x":184,"v":52},{"s":"y","x":185,"v":36.5},{"s":"y","x":186,"v":40},{"s":"y","x":187,"v":52},{"s":"y","x":188,"v":37.5},{"s":"y","x":189,"v":41.5},
{"s":"y","x":190,"v":41.5},{"s":"y","x":191,"v":32},{"s":"y","x":192,"v":40.5},{"s":"y","x":193,"v":45},{"s":"y","x":194,"v":49.5},{"s":"y","x":195,"v":32.5},{"s":"y","x":196,"v":31},{"s":"y","x":197,"v":20},{"s":"y","x":198,"v":51.5},{"s":"y","x":199,"v":56},
{"s":"y","x":200,"v":33.5},{"s":"y","x":201,"v":38},{"s":"y","x":202,"v":53},{"s":"y","x":203,"v":60},{"s":"y","x":204,"v":62},{"s":"y","x":205,"v":44},{"s":"y","x":206,"v":30},{"s":"y","x":207,"v":25.5},{"s":"y","x":208,"v":55},{"s":"y","x":209,"v":36},
{"s":"y","x":210,"v":38},{"s":"y","x":211,"v":46.5},{"s":"y","x":212,"v":53.5},{"s":"y","x":213,"v":39.5},{"s":"y","x":214,"v":42},{"s":"y","x":215,"v":44},{"s":"y","x":216,"v":57},{"s":"y","x":217,"v":40.5},{"s":"y","x":218,"v":41.5},{"s":"y","x":219,"v":45.5},
{"s":"y","x":220,"v":72.5},{"s":"y","x":221,"v":70.5},{"s":"y","x":222,"v":66.5},{"s":"y","x":223,"v":87.5},{"s":"y","x":224,"v":95.5},{"s":"y","x":225,"v":67},{"s":"y","x":226,"v":36.5},{"s":"y","x":227,"v":49},{"s":"y","x":228,"v":46},{"s":"y","x":229,"v":45.5},
{"s":"y","x":230,"v":53},{"s":"y","x":231,"v":63},{"s":"y","x":232,"v":57},{"s":"y","x":233,"v":67},{"s":"y","x":234,"v":63},{"s":"y","x":235,"v":52.5},{"s":"y","x":236,"v":47.5},{"s":"y","x":237,"v":50},{"s":"y","x":238,"v":63},{"s":"y","x":239,"v":26},
{"s":"y","x":240,"v":39},{"s":"y","x":241,"v":37.5},{"s":"y","x":242,"v":50},{"s":"y","x":243,"v":39},{"s":"y","x":244,"v":28.5},{"s":"y","x":245,"v":53},{"s":"y","x":246,"v":26},{"s":"y","x":247,"v":38},{"s":"y","x":248,"v":46},{"s":"y","x":249,"v":23},
{"s":"y","x":250,"v":45.5},{"s":"y","x":251,"v":30},{"s":"y","x":252,"v":21},{"s":"y","x":253,"v":23},{"s":"y","x":254,"v":21},{"s":"y","x":255,"v":27.5},{"s":"y","x":256,"v":44.5},{"s":"y","x":257,"v":24.5},{"s":"y","x":258,"v":28.5},{"s":"y","x":259,"v":71.5},
{"s":"y","x":260,"v":60},{"s":"y","x":261,"v":67},{"s":"y","x":262,"v":75.5},{"s":"y","x":263,"v":37},{"s":"y","x":264,"v":46.5},{"s":"y","x":265,"v":66}
]},
"encoding": {
  "x": {"field": "x", "type": "quantitative", "scale": {"domain": [0, 265], "nice": false, "zero": false}, "axis": null},
  "y": {"field": "v", "type": "quantitative", "scale": {"domain": [0, 126], "nice": false, "zero": false}, "axis": null}
},
"layer": [
  {"transform": [{"filter": "datum.s === 'r'"}], "mark": {"type": "line", "color": "#ff0000", "strokeWidth": 4, "strokeJoin": "round", "strokeCap": "square", "clip": false}},
  {"transform": [{"filter": "datum.s === 'b'"}], "mark": {"type": "line", "color": "#0000ff", "strokeWidth": 4, "strokeJoin": "round", "strokeCap": "square", "clip": false}},
  {"transform": [{"filter": "datum.s === 'c'"}], "mark": {"type": "line", "color": "#00ffff", "strokeWidth": 4, "strokeJoin": "round", "strokeCap": "square", "clip": false}},
  {"transform": [{"filter": "datum.s === 'y'"}], "mark": {"type": "line", "color": "#ffff00", "strokeWidth": 4, "strokeJoin": "round", "strokeCap": "square", "clip": false}}
]
}
